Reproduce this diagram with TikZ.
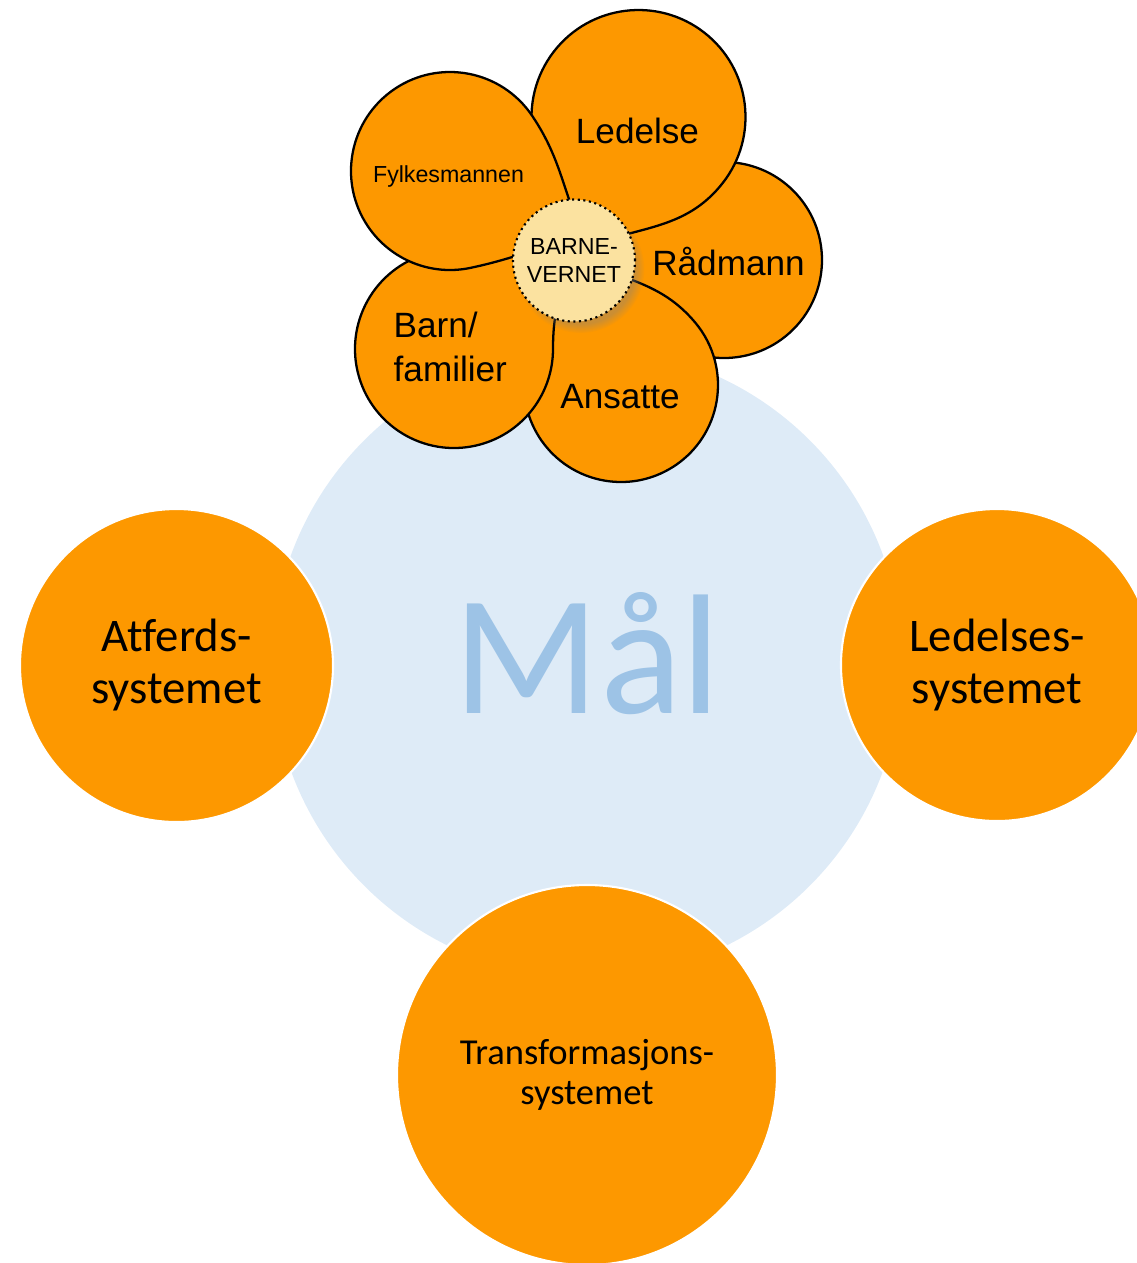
\documentclass[tikz,border=0pt]{standalone}
\usepackage{fontspec}
\setmainfont{Carlito}[Ligatures=NoCommon]
\newfontfamily\flowerfont{Liberation Sans}
\usetikzlibrary{shadows, fadings}
\definecolor{systemorange}{RGB}{253,152,0}
\definecolor{maalbg}{RGB}{222,235,247}
\definecolor{maalfg}{RGB}{157,195,230}
\definecolor{hubyellow}{RGB}{251,226,160}
\tikzset{
  system/.style={circle, fill=systemorange, draw=white, line width=0.6pt, inner sep=0pt, align=center, font=\fontsize{13.3}{14.8}\selectfont},
  petal/.style={fill=systemorange, draw=black, line width=0.65pt, line join=round},
  petaltext/.style={inner sep=0pt, font=\flowerfont\fontsize{10}{12.5}\selectfont},
  hub/.style={circle, fill=hubyellow, draw=black, densely dotted, line width=0.6pt, minimum size=1.22cm, inner sep=0pt, align=center, font=\flowerfont\fontsize{6.6}{8}\selectfont, circular drop shadow={shadow xshift=0.6mm, shadow yshift=-0.8mm, shadow scale=1.05, opacity=0.4}}
}

\begin{document}
\begin{tikzpicture}
\useasboundingbox (0,0) rectangle (11.37,-12.63);
\clip (0,0) rectangle (11.37,-12.63);
\node[circle, fill=maalbg, minimum size=6.30cm] (maal) at (5.87,-6.63) {};
\node[anchor=base, inner sep=0pt, text=maalfg, font=\fontsize{48.6}{58}\selectfont] (maaltext) at (5.875,-7.13) {Mål};
\node[system, minimum size=3.13cm] (atferd) at (1.765,-6.655) {Atferds-\\systemet};
\node[system, minimum size=3.12cm] (ledelses) at (9.97,-6.65) {Ledelses-\\systemet};
\node[system, minimum size=3.80cm, font=\fontsize{10.4}{11.4}\selectfont] (transf) at (5.87,-10.75) {Transformasjons-\\systemet};
% petals, back to front
\draw[petal] (7.24,-2.60) ++(-135:0.98) coordinate (raadA)
  arc[start angle=-135, end angle=135, radius=0.98]
  to[out=225, in=45] (5.74,-2.60) to[out=-45, in=135] (raadA) -- cycle;
\draw[petal] (6.385,-1.17) ++(-38:1.07) coordinate (ledA)
  arc[start angle=-38, end angle=190, radius=1.07]
  to[out=280, in=105] (5.78,-2.50) to[out=23, in=-128] (ledA) -- cycle;
\draw[petal] (6.21,-3.85) ++(170:0.97) coordinate (ansA)
  arc[start angle=170, end angle=400, radius=0.97]
  to[out=130, in=-23] (5.85,-2.62) to[out=240, in=80] (ansA) -- cycle;
\draw[petal] (4.54,-3.49) ++(106:0.99) coordinate (barnA)
  arc[start angle=106, end angle=360, radius=0.99]
  to[out=90, in=250] (5.72,-2.58) to[out=150, in=16] (barnA) -- cycle;
\draw[petal] (4.50,-1.71) ++(34:0.99) coordinate (fylkA)
  arc[start angle=34, end angle=282, radius=0.99]
  to[out=12, in=197] (5.82,-2.34) to[out=113, in=-56] (fylkA) -- cycle;
\node[hub] (barnevernet) at (5.74,-2.605) {BARNE-\\VERNET};
\node[petaltext, anchor=base] (ledelse) at (6.375,-1.43) {Ledelse};
\node[petaltext, anchor=base] (raadmann) at (7.285,-2.75) {Rådmann};
\node[petaltext, anchor=base] (ansatte) at (6.20,-4.08) {Ansatte};
\node[petaltext, anchor=west, align=left] (barn) at (3.93,-3.47) {Barn/\\familier};
\node[petaltext, anchor=base, font=\flowerfont\fontsize{6.6}{8}\selectfont] (fylkesmannen) at (4.485,-1.82) {Fylkesmannen};
\end{tikzpicture}
\end{document}
